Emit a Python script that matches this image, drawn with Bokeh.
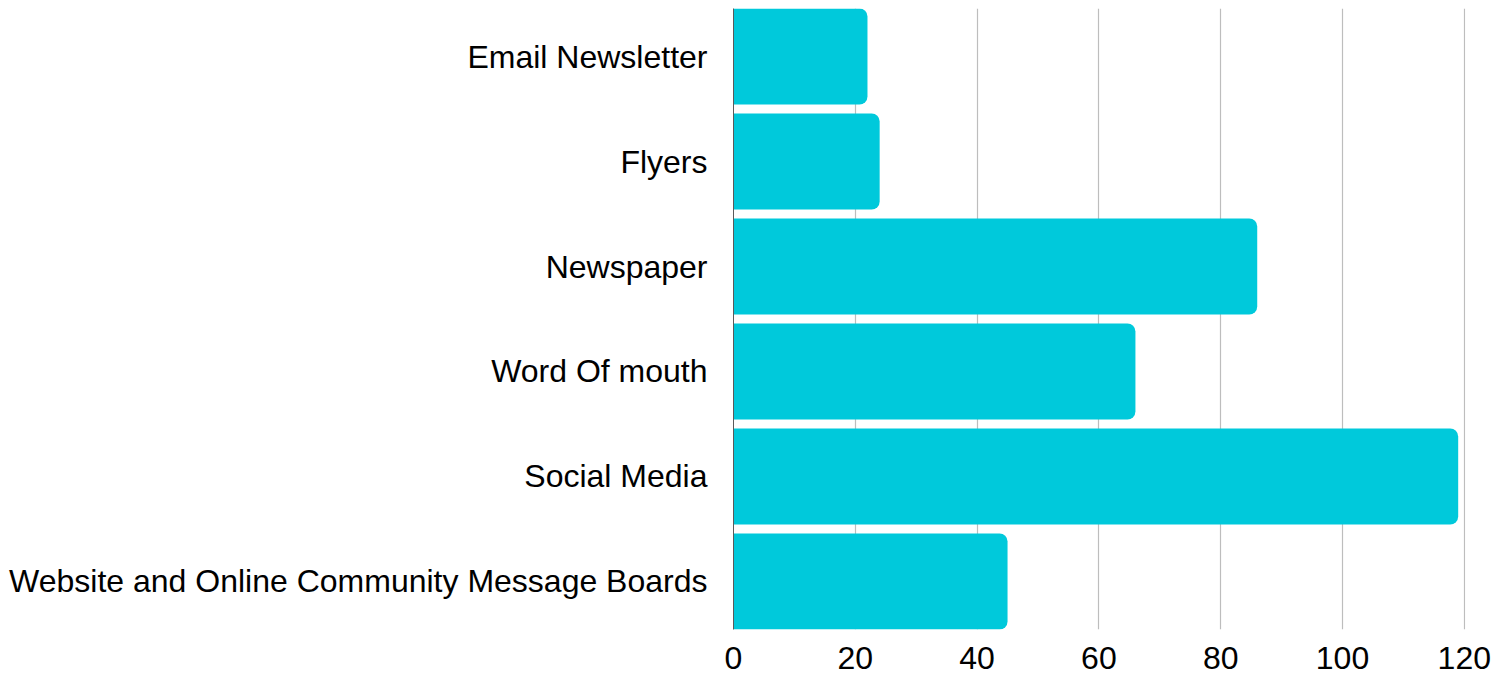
from bokeh.plotting import figure
from bokeh.models import Range1d, FixedTicker, ColumnDataSource
from bokeh.embed import file_html
from bokeh.resources import INLINE

categories = ["Email Newsletter", "Flyers", "Newspaper", "Word Of mouth",
              "Social Media", "Website and Online Community Message Boards"]
values = [22, 24, 86, 66, 119, 45]
x_ticks = [0, 20, 40, 60, 80, 100, 120]

n = len(categories)
ypos = [n - 1 - i for i in range(n)]
bar_h = 0.915

src = ColumnDataSource(dict(y=ypos, v=values, cat=categories))

p = figure(width=1512, height=678, output_backend="svg", toolbar_location=None,
           x_range=Range1d(0, 120.2), y_range=Range1d(-bar_h / 2, n - 1 + bar_h / 2),
           min_border_left=733, min_border_right=47, min_border_top=8, min_border_bottom=49)
p.outline_line_color = None
p.background_fill_color = "white"
p.border_fill_color = "white"

p.hbar(y="y", right="v", left=0, height=bar_h, source=src,
       fill_color="#00C9DB", line_color=None, border_radius=(0, 8, 8, 0))

FONT = "Liberation Sans"
FS = "32px"

p.xaxis.ticker = FixedTicker(ticks=x_ticks)
p.xaxis.axis_line_color = None
p.xaxis.major_tick_line_color = None
p.xaxis.minor_tick_line_color = None
p.xaxis.major_label_text_font = FONT
p.xaxis.major_label_text_font_size = FS
p.xaxis.major_label_text_color = "black"
p.xaxis.major_label_standoff = 11

p.yaxis.ticker = FixedTicker(ticks=ypos)
p.yaxis.major_label_overrides = {y: c for y, c in zip(ypos, categories)}
p.yaxis.axis_line_color = "#5a5a5a"
p.yaxis.axis_line_width = 1
p.yaxis.major_tick_line_color = None
p.yaxis.minor_tick_line_color = None
p.yaxis.major_label_text_font = FONT
p.yaxis.major_label_text_font_size = FS
p.yaxis.major_label_text_color = "black"
p.yaxis.major_label_standoff = 20

p.xgrid.ticker = FixedTicker(ticks=x_ticks[1:])
p.xgrid.grid_line_color = "#bdbdbd"
p.xgrid.grid_line_width = 1.2
p.ygrid.grid_line_color = None

open("out.html", "w").write(file_html(p, INLINE))
